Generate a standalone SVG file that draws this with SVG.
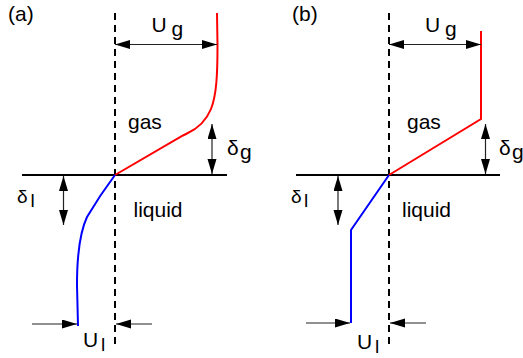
<svg xmlns="http://www.w3.org/2000/svg" width="523" height="358" viewBox="0 0 523 358">
<defs>
<marker id="ah" markerUnits="userSpaceOnUse" markerWidth="16" markerHeight="10" refX="15" refY="4.5" orient="auto-start-reverse" viewBox="0 0 16 10">
<path d="M0,0 L15,4.5 L0,9 z" fill="#000"/>
</marker>
<style>
text{font-family:"Liberation Sans",Arial,sans-serif;font-size:21px;fill:#000}
.base{stroke:#000;stroke-width:2;fill:none}
.dash{stroke:#000;stroke-width:2;stroke-dasharray:7 5;fill:none}
.dim{stroke:#222;stroke-width:1.2;fill:none}
.dbl{marker-start:url(#ah);marker-end:url(#ah)}
.one{marker-end:url(#ah)}
.gas{stroke:#f00;stroke-width:2;fill:none}
.liq{stroke:#00f;stroke-width:2;fill:none}
.sm{font-size:19px}
.sub{font-size:19px}
</style>
</defs>
<g id="panel-a">
<text x="8" y="21">(a)</text>
<g id="a-axes">
<line class="base" x1="22" y1="175" x2="227" y2="175"/>
<line class="dash" x1="115" y1="13" x2="115" y2="348"/>
</g>
<g id="a-profiles">
<path class="gas" d="M217,13 L217.5,45 C217.5,75 216.5,95 211,109 C206,121 197,129 187,133.5 L183,135.5 L115,175"/>
<path class="liq" d="M115,175 Q100,195 87,217 C80,232 77,255 77,285 L78,326"/>
</g>
<g id="a-labels">
<text x="128" y="129">gas</text>
<text x="133.5" y="217">liquid</text>
<text x="151.5" y="32">U</text><text x="171.5" y="36">g</text>
<text x="227" y="155">δ</text><text x="240" y="159">g</text>
<text class="sm" x="17" y="203">δ</text><text class="sub" x="30.5" y="207">l</text>
<text x="83" y="347">U</text><text class="sub" x="101" y="351">l</text>
</g>
</g>
<g id="panel-b">
<text x="292" y="21">(b)</text>
<g id="b-axes">
<line class="base" x1="296" y1="175" x2="500" y2="175"/>
<line class="dash" x1="389" y1="13" x2="389" y2="348"/>
</g>
<g id="b-profiles">
<path class="gas" d="M481,31 L481,119 L389,175"/>
<path class="liq" d="M389,175 L351,230 L351,323"/>
</g>
<g id="b-labels">
<text x="407" y="129">gas</text>
<text x="402" y="217">liquid</text>
<text x="425" y="32">U</text><text x="445" y="36">g</text>
<text x="499" y="155">δ</text><text x="512" y="159">g</text>
<text class="sm" x="291" y="203">δ</text><text class="sub" x="304" y="207">l</text>
<text x="357" y="349">U</text><text class="sub" x="375" y="353">l</text>
</g>
</g>
<g id="connectors">
<line class="dim dbl" x1="115" y1="44.5" x2="217" y2="44.5"/>
<line class="dim dbl" x1="212" y1="124" x2="212" y2="174"/>
<line class="dim dbl" x1="63.5" y1="176" x2="63.5" y2="225"/>
<line class="dim one" x1="32" y1="324" x2="77" y2="324"/>
<line class="dim one" x1="152" y1="324" x2="116" y2="324"/>
<line class="dim dbl" x1="389" y1="44.5" x2="481" y2="44.5"/>
<line class="dim dbl" x1="485.5" y1="124" x2="485.5" y2="174"/>
<line class="dim dbl" x1="338" y1="176" x2="338" y2="225"/>
<line class="dim one" x1="306" y1="323" x2="350" y2="323"/>
<line class="dim one" x1="426" y1="323" x2="390" y2="323"/>
</g>
</svg>
